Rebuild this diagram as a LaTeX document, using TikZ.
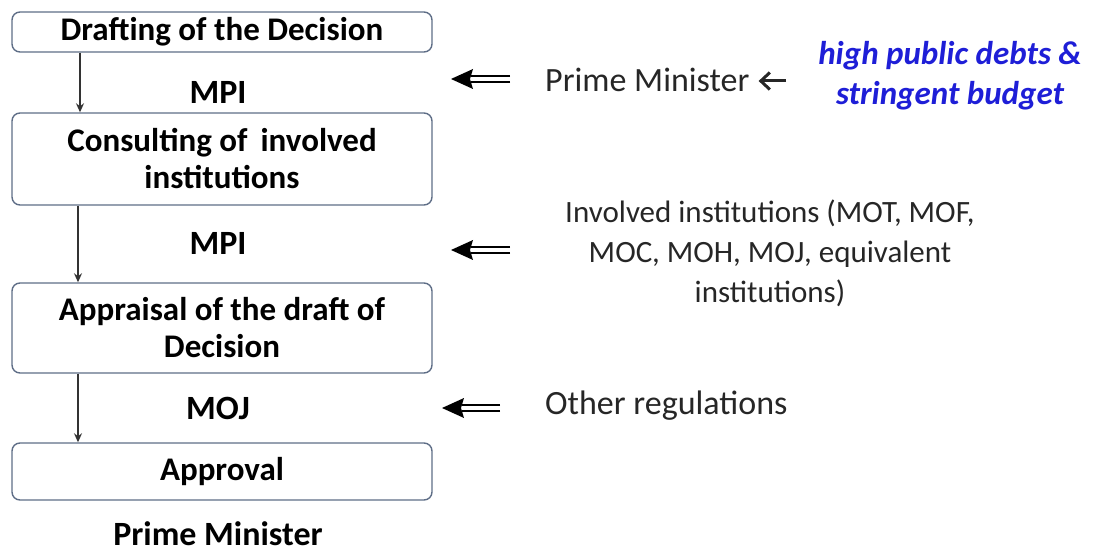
\documentclass[tikz,border=0pt]{standalone}
\usepackage{fontspec}
\setmainfont{Carlito}
\usetikzlibrary{arrows.meta,calc}
\definecolor{boxline}{RGB}{95,110,135}
\definecolor{noteblue}{RGB}{30,30,215}
\tikzset{
  stepbox/.style={draw=boxline, line width=1.4pt, rounded corners=8pt, fill=white,
    minimum width=420pt, align=center, font=\fontsize{33}{37}\selectfont\bfseries, inner sep=0pt},
  actor/.style={font=\fontsize{34}{38}\selectfont\bfseries},
  plain/.style={font=\fontsize{34}{40}\selectfont, text=black!85, align=center},
  flow/.style={line width=1.4pt, draw=black!80, -{Stealth[length=9pt,width=8pt]}},
  dblshaft/.style={line width=1.6pt},
  smallarrow/.style={draw=black!85, line width=3pt, -{Straight Barb[length=9pt,width=17pt,line width=3pt]}},
}
% left-pointing double arrow between two coordinates (start on the right, tip on the left)
\newcommand{\dblarrow}[2]{%
  \draw[dblshaft] ($(#1)+(0,-2.8)$) -- ($(#2)+(20,-2.8)$);
  \draw[dblshaft] ($(#1)+(0,2.8)$) -- ($(#2)+(20,2.8)$);
  \fill (#2) -- ++(22,-10) -- ++(-3,10) -- ++(3,10) -- cycle;}
\begin{document}
\begin{tikzpicture}[x=1pt,y=-1pt]
\useasboundingbox (0,0) rectangle (1095,553);
% process boxes
\node[stepbox, minimum height=40pt] (b1) at (222,32) {Drafting of the Decision};
\node[stepbox, minimum height=92pt] (b2) at (222,159) {Consulting of\, involved\\institutions};
\node[stepbox, minimum height=90pt] (b3) at (222,328) {Appraisal of the draft of\\Decision};
\node[stepbox, minimum height=57pt] (b4) at (222,471.5) {Approval};
% responsible bodies
\node[actor] (m1) at (218,92) {MPI};
\node[actor] (m2) at (218,243) {MPI};
\node[actor] (m3) at (218,408) {MOJ};
\node[actor] (pm) at (218,534) {Prime Minister};
% flow between steps
\coordinate (a1) at (80,0);
\coordinate (a2) at (78,0);
\draw[flow] (b1.south -| a1) -- (b2.north -| a1);
\draw[flow] (b2.south -| a2) -- (b3.north -| a2);
\draw[flow] (b3.south -| a2) -- (b4.north -| a2);
% inputs on the right
\node[plain, anchor=west, inner sep=0pt] (pmin) at (545,80) {Prime Minister};
\node[font=\fontsize{33}{40}\selectfont\bfseries\itshape, text=noteblue, align=center] (debt) at (950,76) {high public debts \&\\stringent budget};
\coordinate (pmtail) at (786,81);
\draw[smallarrow] (pmtail) -- ($(pmin.east)+(9,1)$);
\node[plain, font=\fontsize{31}{40}\selectfont] (inst) at (770,253) {Involved institutions (MOT, MOF,\\MOC, MOH, MOJ, equivalent\\institutions)};
\node[plain, anchor=west, inner sep=0pt] (oreg) at (545,406) {Other regulations};
\coordinate (d1s) at (510,79); \coordinate (d1e) at (451,79);
\coordinate (d2s) at (510,250); \coordinate (d2e) at (451,250);
\coordinate (d3s) at (500,408); \coordinate (d3e) at (442,408);
\dblarrow{d1s}{d1e}
\dblarrow{d2s}{d2e}
\dblarrow{d3s}{d3e}
\end{tikzpicture}
\end{document}
